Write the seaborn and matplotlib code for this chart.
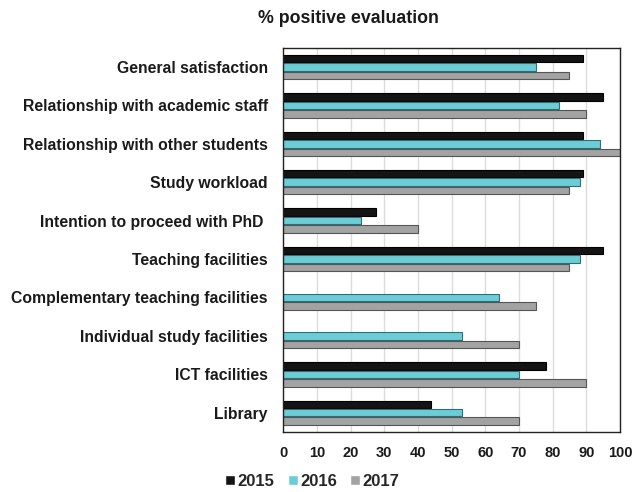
import numpy as np
import pandas as pd
import matplotlib
matplotlib.use("Agg")
import matplotlib.pyplot as plt
import seaborn as sns

# Data
categories = [
    "General satisfaction",
    "Relationship with academic staff",
    "Relationship with other students",
    "Study workload",
    "Intention to proceed with PhD ",
    "Teaching facilities",
    "Complementary teaching facilities",
    "Individual study facilities",
    "ICT facilities",
    "Library",
]
years = ["2015", "2016", "2017"]
vals_2015 = [89, 95, 89, 89, 27.5, 95, np.nan, np.nan, 78, 44]
vals_2016 = [75, 82, 94, 88, 23, 88, 64, 53, 70, 53]
vals_2017 = [85, 90, 100, 85, 40, 85, 75, 70, 90, 70]

df = pd.DataFrame({
    "category": categories * 3,
    "year": [y for y in years for _ in categories],
    "value": vals_2015 + vals_2016 + vals_2017,
})

sns.set_style("white")
plt.rcParams["font.family"] = ["Liberation Sans", "DejaVu Sans"]
plt.rcParams["font.weight"] = "bold"

fig = plt.figure(figsize=(6.32, 4.92), dpi=100)
ax = fig.add_axes([0.448, 0.122, 0.533, 0.781])

colors = {"2015": "#141414", "2016": "#6ccdd6", "2017": "#a3a3a3"}
edges = {"2015": "#000000", "2016": "#2a7178", "2017": "#555555"}

sns.barplot(data=df, y="category", x="value", hue="year", hue_order=years,
            palette=colors, orient="h", width=0.66, gap=0.12,
            saturation=1, ax=ax, legend=True)

# edge colours per series
for cont, y in zip(ax.containers, years):
    for p in cont:
        p.set_edgecolor(edges[y])
        p.set_linewidth(0.8)

ax.set_xlim(0, 100)
ax.set_xticks(range(0, 101, 10))
ax.set_xlabel("")
ax.set_ylabel("")
ax.xaxis.grid(True, color="#dcdcdc", linewidth=1)
ax.set_axisbelow(True)
for s in ax.spines.values():
    s.set_visible(True)
    s.set_color("#222222")
    s.set_linewidth(1.0)
ax.tick_params(axis="x", labelsize=10.5, length=0, pad=10)
ax.tick_params(axis="y", labelsize=11.3, length=0, pad=11)
for t in ax.get_xticklabels() + ax.get_yticklabels():
    t.set_fontweight("bold")
    t.set_color("#1a1a1a")

fig.text(0.551, 0.963, "% positive evaluation", ha="center", va="center",
         fontsize=12.8, fontweight="bold", color="#1a1a1a")

handles, labels = ax.get_legend_handles_labels()
ax.legend_.remove()
fig.legend(handles, labels, loc="center", bbox_to_anchor=(0.494, 0.022),
           ncol=3, frameon=False, handlelength=0.6,
           handleheight=0.6, handletextpad=0.15, columnspacing=0.8,
           prop={"weight": "bold", "size": 12})

fig.savefig("out.png", dpi=100)
